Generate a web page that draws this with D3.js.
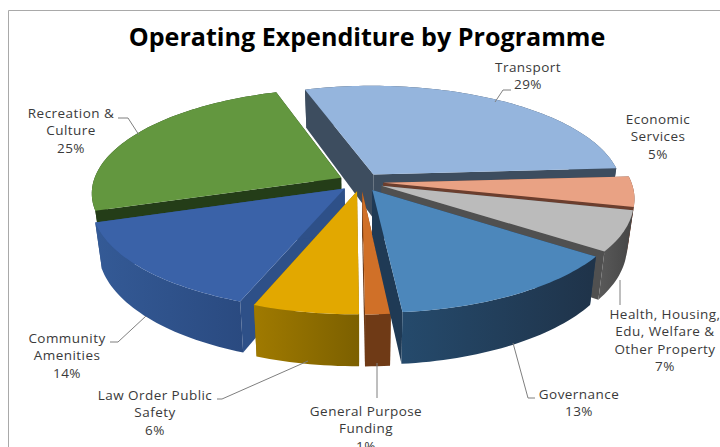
<!DOCTYPE html>
<html>
<head>
<meta charset="utf-8">
<script src="https://cdn.jsdelivr.net/npm/d3@7"></script>
<style>
  html, body { margin: 0; padding: 0; background: #fff; overflow: hidden; }
  text { font-family: "Open Sans", sans-serif; fill: #3a3a3a; font-size: 13.5px; letter-spacing: 0.45px; }
  .title { font-weight: 700; font-size: 25.1px; fill: #000; letter-spacing: 0; }
</style>
</head>
<body>
<svg id="chart" width="720" height="447"></svg>
<script>
// values, the printed labels are rounded
var programmes = ["Transport", "Economic Services", "Health", "Governance", "General Purpose Funding", "Law Order", "Community Amenities", "Recreation & Culture"];
var values = [29, 4.6, 6.2, 13.6, 1.4, 5.9, 14.2, 25];
var percentLabels = ["29%", "5%", "7%", "13%", "1%", "6%", "14%", "25%"];
var labelLines = [
  ["Transport"],
  ["Economic", "Services"],
  ["Health, Housing,", "Edu, Welfare &", "Other Property"],
  ["Governance"],
  ["General Purpose", "Funding"],
  ["Law Order Public", "Safety"],
  ["Community", "Amenities"],
  ["Recreation &", "Culture"]
];

var topColors = ["#95b5dd", "#e9a284", "#bbbbbb", "#4c87bb", "#d07028", "#e2a800", "#3a62a8", "#63973f"];
var wallColors = ["#3d4d5f", "#6b3e2e", "#505050", "#1f3a55", "#6f3a16", "#8a6a00", "#2e5088", "#243d18"];
var gradFrom = ["#3d4d5f", "#6b3e2e", "#5a5a5a", "#254a6c", "#6f3a16", "#a07a00", "#345a96", "#243d18"];
var gradTo = ["#3d4d5f", "#6b3e2e", "#454545", "#1f3349", "#6f3a16", "#7c6000", "#2a4a80", "#243d18"];

// back to front
var drawOrder = [0, 7, 1, 2, 6, 5, 4, 3];

// label placement: centre x, first line y, leader polyline
var labelPos = [
  {x: 528, y: 67, leader: [[495, 102], [503, 90], [511, 90]]},
  {x: 658, y: 119, leader: null},
  {x: 665, y: 314, leader: [[620, 280], [620, 305]]},
  {x: 579, y: 394, leader: [[513, 343], [528, 398], [535, 398]]},
  {x: 366, y: 411, leader: [[377, 363], [377, 398]]},
  {x: 155, y: 395, leader: [[308, 361], [222, 399], [217, 399]]},
  {x: 67, y: 338, leader: [[146, 316], [118, 342], [110, 342]]},
  {x: 71, y: 113, leader: [[139, 135], [128, 118], [118, 118]]}
];

var svgWidth = 720;
var svgHeight = 447;

// pie geometry
var cx = 361, cy = 182;
var rx = 248, ry = 103;
var persp = 0.14;      // back of the pie is smaller than the front
var depth = 44;
var bottomShrink = 0.975;
var explode = 0.09;
var rotation = -18 * Math.PI / 180;

var svg = d3.select("#chart");
var defs = svg.append("defs");

// frame only on top and left, the rest was cropped
svg.append("path")
  .attr("d", "M8.5,447V10.5H720")
  .attr("fill", "none")
  .attr("stroke", "#a9a9a9")
  .attr("stroke-width", 1);

svg.append("text")
  .attr("class", "title")
  .attr("x", 367)
  .attr("y", 46)
  .attr("text-anchor", "middle")
  .text("Operating Expenditure by Programme");

function project(u, v, h) {
  var w = 1 / (1 - persp * v);
  var x = cx + rx * u * w;
  var y = cy + ry * v * w;
  if (h) {
    x = cx + (x - cx) * bottomShrink;
    y = y + depth * w;
  }
  return [x, y];
}

var pie = d3.pie()
  .sort(null)
  .value(d => d)
  .startAngle(rotation)
  .endAngle(rotation + 2 * Math.PI);

var arcs = pie(values);
var line = d3.line();

function slicePoints(d) {
  var mid = (d.startAngle + d.endAngle) / 2;
  var ou = explode * Math.sin(mid);
  var ov = -explode * Math.cos(mid);
  var steps = Math.max(4, Math.round((d.endAngle - d.startAngle) * 40));
  var pts = d3.range(steps + 1).map(function(i) {
    var a = d.startAngle + (d.endAngle - d.startAngle) * i / steps;
    return [ou + Math.sin(a), ov - Math.cos(a)];
  });
  return {apex: [ou, ov], rim: pts};
}

var pieGroup = svg.append("g");

drawOrder.forEach(function(i) {
  var s = slicePoints(arcs[i]);
  var g = pieGroup.append("g").attr("class", "slice");

  var gradId = "wall" + i;
  var grad = defs.append("linearGradient").attr("id", gradId);
  grad.append("stop").attr("offset", "0%").attr("stop-color", gradFrom[i]);
  grad.append("stop").attr("offset", "100%").attr("stop-color", gradTo[i]);

  var first = s.rim[0], last = s.rim[s.rim.length - 1];

  // radial walls
  [first, last].forEach(function(p) {
    var wall = [project(s.apex[0], s.apex[1], 0), project(p[0], p[1], 0),
                project(p[0], p[1], 1), project(s.apex[0], s.apex[1], 1)];
    g.append("path")
      .attr("d", line(wall) + "Z")
      .attr("fill", wallColors[i]);
  });

  // outer wall
  var outer = s.rim.map(p => project(p[0], p[1], 0))
    .concat(s.rim.slice().reverse().map(p => project(p[0], p[1], 1)));
  g.append("path")
    .attr("d", line(outer) + "Z")
    .attr("fill", "url(#" + gradId + ")");

  // top
  var top = [project(s.apex[0], s.apex[1], 0)].concat(s.rim.map(p => project(p[0], p[1], 0)));
  g.append("path")
    .attr("d", line(top) + "Z")
    .attr("fill", topColors[i]);
});

// leader lines and data labels
labelPos.forEach(function(pos, i) {
  if (pos.leader) {
    svg.append("path")
      .attr("d", line(pos.leader))
      .attr("fill", "none")
      .attr("stroke", "#7f7f7f")
      .attr("stroke-width", 1);
  }
  var t = svg.append("text")
    .attr("text-anchor", "middle")
    .attr("y", pos.y + 4.5);
  labelLines[i].concat([percentLabels[i]]).forEach(function(str, k) {
    t.append("tspan")
      .attr("x", pos.x)
      .attr("dy", k === 0 ? 0 : 17.6)
      .text(str);
  });
});
</script>
</body>
</html>
